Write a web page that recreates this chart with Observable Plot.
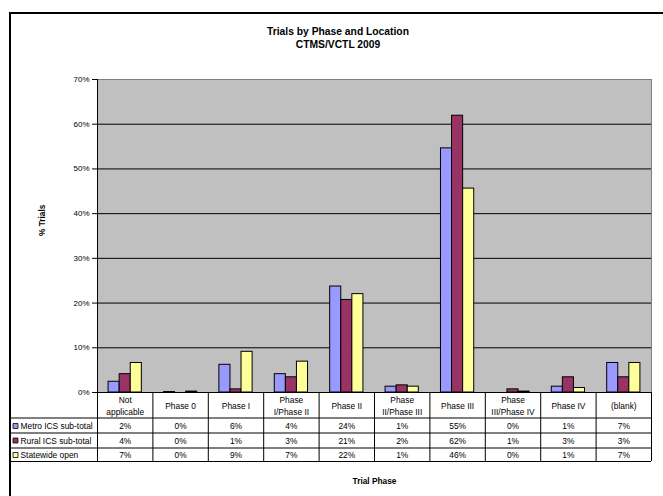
<!DOCTYPE html>
<html>
<head>
<meta charset="utf-8">
<script src="https://cdn.jsdelivr.net/npm/d3@7"></script>
<script src="https://cdn.jsdelivr.net/npm/@observablehq/plot@0.6"></script>
<style>
  html, body { margin: 0; padding: 0; background: #fff; }
  #page { position: relative; width: 663px; height: 496px; overflow: hidden; font-family: "Liberation Sans", Arial, sans-serif; }
  #box { position: absolute; left: 9px; top: 12px; width: 700px; height: 600px; border-left: 2px solid #000; border-top: 2px solid #000; }
  #chart { position: absolute; left: 0; top: 0; }
  #title { position: absolute; left: 238px; width: 200px; top: 25px; text-align: center; font-weight: bold; font-size: 10.3px; line-height: 13.3px; color: #000; }
</style>
</head>
<body>
<div id="page">
  <div id="box"></div>
  <div id="chart"></div>
  <div id="title">Trials by Phase and Location<br>CTMS/VCTL 2009</div>
</div>
<script>
// Trial phases (row headers of the data table; "\n" marks a wrapped label)
const phases = [
  "Not\napplicable", "Phase 0", "Phase I", "Phase\nI/Phase II", "Phase II",
  "Phase\nII/Phase III", "Phase III", "Phase\nIII/Phase IV", "Phase IV", "(blank)"
];

// Series names and colours
const seriesNames = ["Metro ICS sub-total", "Rural ICS sub-total", "Statewide open"];
const seriesColors = ["#9999ff", "#993366", "#ffff99"];

// Share of trials per phase (fraction of 1)
const metro     = [0.024, 0.001, 0.062, 0.041, 0.237, 0.013, 0.546, 0.000, 0.013, 0.066];
const rural     = [0.041, 0.000, 0.007, 0.034, 0.207, 0.016, 0.619, 0.007, 0.034, 0.034];
const statewide = [0.066, 0.002, 0.091, 0.069, 0.220, 0.013, 0.456, 0.002, 0.010, 0.066];

const yTicks = [0, 0.1, 0.2, 0.3, 0.4, 0.5, 0.6, 0.7];
const gridLines = [0.1, 0.2, 0.3, 0.4, 0.5, 0.6];

const seriesValues = [metro, rural, statewide];
const rows = phases.flatMap((phase, i) =>
  seriesNames.map((series, k) => ({i, k, phase, series, value: seriesValues[k][i]}))
);

const pct = d3.format(".0%");
const barW = 0.2;                 // bar width in category units
const groupStart = 0.2;           // first bar's left edge within a category
const rowDy = [34, 48.5, 63];     // data-table row text offsets below the axis
const rowLineDy = [25.5, 40.5, 55.5, 69];
const tableFont = 8.4;

const marks = [
  Plot.frame({fill: "#c0c0c0"}),
  Plot.ruleY(gridLines, {stroke: "#000", strokeWidth: 1}),
  Plot.frame({stroke: "#808080"}),
  Plot.rect(rows, {
    x1: d => d.i + groupStart + d.k * barW,
    x2: d => d.i + groupStart + (d.k + 1) * barW,
    y1: 0,
    y2: "value",
    fill: "series",
    stroke: "#000",
    strokeWidth: 1
  }),
  Plot.ruleX([0], {stroke: "#000"}),
  Plot.ruleY([0], {stroke: "#000"}),

  // data table: header labels
  Plot.text(phases, {
    x: (d, i) => i + 0.5, y: 0, dy: 12.8,
    lineAnchor: "middle", lineHeight: 1.36, fontSize: tableFont, fill: "#000"
  }),
  // data table: grid
  ...rowLineDy.map(dy => Plot.ruleY([0], {dy, insetLeft: -87, stroke: "#000"})),
  Plot.ruleX(d3.range(phases.length + 1), {y1: 0, y2: 0, insetBottom: -69, stroke: "#000"}),
  // data table: values per series
  ...seriesNames.map((s, k) => Plot.text(rows.filter(d => d.k === k), {
    x: d => d.i + 0.5, y: 0, dy: rowDy[k],
    text: d => pct(d.value), lineAnchor: "middle", fontSize: tableFont, fill: "#000"
  })),
  // data table: legend keys and series names
  ...seriesNames.map((s, k) => Plot.dot([s], {
    x: 0, y: 0, dx: -82, dy: rowDy[k] - 0.5,
    symbol: "square", r: 2.8, fill: d => d, stroke: "#000", strokeWidth: 0.8
  })),
  ...seriesNames.map((s, k) => Plot.text([s], {
    x: 0, y: 0, dx: -77, dy: rowDy[k], textAnchor: "start",
    lineAnchor: "middle", fontSize: tableFont, fill: "#000"
  })),

  // axis titles
  Plot.text(["% Trials"], {
    frameAnchor: "left", dx: -55, rotate: -90,
    fontWeight: "bold", fontSize: 8.3, fill: "#000"
  }),
  Plot.text(["Trial Phase"], {
    frameAnchor: "bottom", dy: 91,
    fontWeight: "bold", fontSize: 8.3, fill: "#000"
  })
];

const chart = Plot.plot({
  width: 663,
  height: 496,
  marginLeft: 97,
  marginRight: 12,
  marginTop: 79,
  marginBottom: 104,
  style: {fontFamily: "'Liberation Sans', Arial, sans-serif", fontSize: "8px", background: "transparent", color: "#000"},
  x: {domain: [0, phases.length], axis: null},
  y: {domain: [0, 0.7], ticks: yTicks, tickFormat: ".0%", tickSize: 5, tickPadding: 3, label: null},
  color: {domain: seriesNames, range: seriesColors},
  marks
});

document.getElementById("chart").appendChild(chart);
</script>
</body>
</html>
